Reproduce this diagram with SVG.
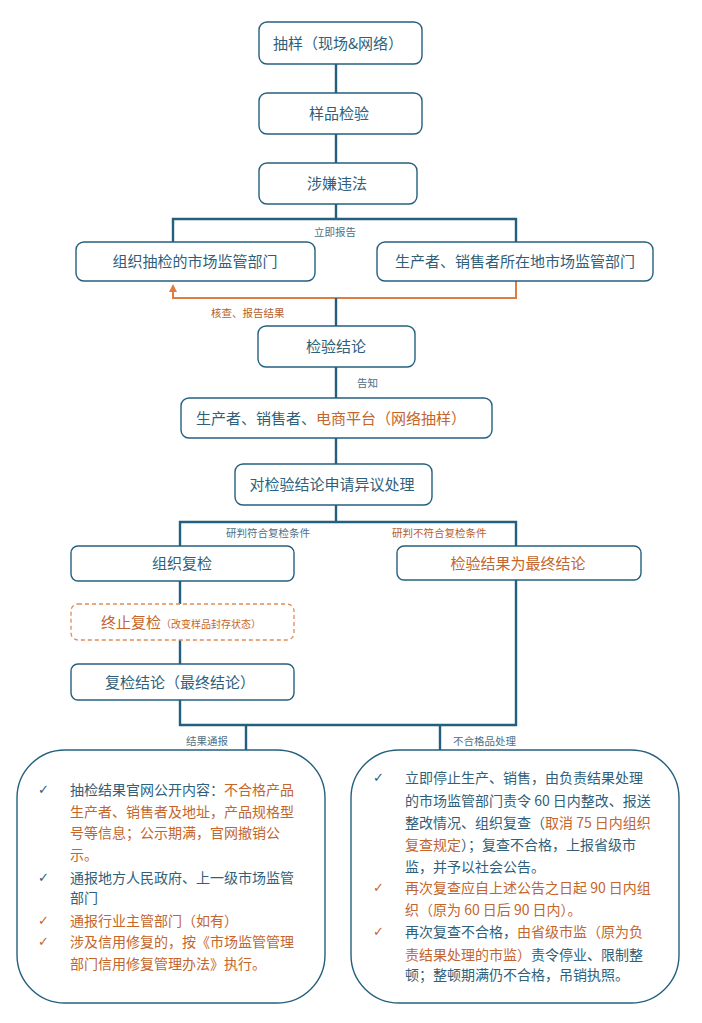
<svg xmlns="http://www.w3.org/2000/svg" width="702" height="1023" viewBox="0 0 702 1023">
<style>
.box{fill:#fff;stroke:#24607e;stroke-width:1.4}
.dash{fill:#fff;stroke:#e08a55;stroke-width:1.3;stroke-dasharray:4 3}
.t{font-family:"Noto Sans CJK SC","Liberation Sans",sans-serif;font-size:15px;fill:#2f5f7a;text-anchor:middle}
.lb{font-family:"Noto Sans CJK SC","Liberation Sans",sans-serif;font-size:10.5px;fill:#4d6f84}
.lo{fill:#b55d2c}
.c{fill:none;stroke:#24607e;stroke-width:2.4}
.co{fill:none;stroke:#de7d3e;stroke-width:2}
.bt{font-family:"Noto Sans CJK SC","Liberation Sans",sans-serif;font-size:14px;fill:#2f5f7a}
.ck{font-family:"DejaVu Sans",sans-serif;font-size:13px}
.o{fill:#c4652c}
</style>
<defs>
<marker id="ah" viewBox="0 0 10 10" refX="5" refY="5" markerWidth="4" markerHeight="4" orient="auto">
<path d="M0,0 L10,5 L0,10 z" fill="#de7d3e"/>
</marker>
</defs>
<g id="connectors">
<path class="c" d="M336,64 V93 M336,134 V163 M336,204 V219 M173,242 V219 H516 V242"/>
<path class="co" d="M516,281 V298 H173 V288" marker-end="url(#ah)"/>
<path class="c" d="M336,298 V326 M336,367 V398 M336,438 V464 M336,505 V522 M180,546 V522 H516 V546"/>
<path class="c" d="M180,581 V604 M180,640 V664 M180,700 V725 H516 V580 M246,725 V750 M440,725 V750"/>
<text class="lb" x="314" y="236">立即报告</text>
<text class="lb lo" x="211" y="317">核查、报告结果</text>
<text class="lb" x="357" y="387">告知</text>
<text class="lb" x="226" y="537">研判符合复检条件</text>
<text class="lb lo" x="392" y="537">研判不符合复检条件</text>
<text class="lb" x="186" y="745">结果通报</text>
<text class="lb" x="453" y="745">不合格品处理</text>
</g>
<g id="n1"><rect class="box" x="259" y="22" width="163" height="42" rx="8"/><text class="t" x="338" y="48.5">抽样（现场&amp;网络）</text></g>
<g id="n2"><rect class="box" x="259" y="93" width="163" height="41" rx="8"/><text class="t" x="339" y="119">样品检验</text></g>
<g id="n3"><rect class="box" x="259" y="163" width="158" height="41" rx="8"/><text class="t" x="337" y="189">涉嫌违法</text></g>
<g id="n4"><rect class="box" x="76" y="242" width="239" height="39" rx="8"/><text class="t" x="195" y="267">组织抽检的市场监管部门</text></g>
<g id="n5"><rect class="box" x="377" y="242" width="276" height="39" rx="8"/><text class="t" x="515" y="267">生产者、销售者所在地市场监管部门</text></g>
<g id="n6"><rect class="box" x="258" y="326" width="157" height="41" rx="8"/><text class="t" x="336" y="352">检验结论</text></g>
<g id="n7"><rect class="box" x="181" y="398" width="311" height="40" rx="8"/><text class="t" x="331" y="423.5">生产者、销售者、<tspan class="o">电商平台（网络抽样）</tspan></text></g>
<g id="n8"><rect class="box" x="235" y="464" width="197" height="41" rx="8"/><text class="t" x="332" y="490">对检验结论申请异议处理</text></g>
<g id="n9"><rect class="box" x="71" y="546" width="223" height="35" rx="7"/><text class="t" x="182" y="569">组织复检</text></g>
<g id="n10"><rect class="box" x="397" y="546" width="244" height="34" rx="7"/><text class="t o" x="518" y="568.5">检验结果为最终结论</text></g>
<g id="n11"><rect class="dash" x="71" y="604" width="223" height="36" rx="7"/><text class="t o" x="181" y="627.5">终止复检<tspan font-size="10">（改变样品封存状态）</tspan></text></g>
<g id="n12"><rect class="box" x="71" y="664" width="223" height="36" rx="7"/><text class="t" x="180" y="687.5">复检结论（最终结论）</text></g>
<g id="n13">
<rect class="box" x="17" y="750" width="308" height="253" rx="48"/>
<text class="ck" x="38" y="794" fill="#24607e">✓</text>
<text class="ck" x="38" y="882" fill="#24607e">✓</text>
<text class="ck" x="38" y="925" fill="#c4652c">✓</text>
<text class="ck" x="38" y="946" fill="#c4652c">✓</text>
<text class="bt" x="70" y="795">抽检结果官网公开内容：<tspan class="o">不合格产品</tspan></text>
<text class="bt o" x="70" y="817">生产者、销售者及地址，产品规格型</text>
<text class="bt o" x="70" y="838">号等信息；公示期满，官网撤销公</text>
<text class="bt o" x="70" y="860">示。</text>
<text class="bt" x="70" y="883">通报地方人民政府、上一级市场监管</text>
<text class="bt" x="70" y="903">部门</text>
<text class="bt o" x="70" y="926">通报行业主管部门（如有）</text>
<text class="bt o" x="70" y="947">涉及信用修复的，按《市场监管管理</text>
<text class="bt o" x="70" y="969">部门信用修复管理办法》执行。</text>
</g>
<g id="n14">
<rect class="box" x="351" y="750" width="328" height="253" rx="48"/>
<text class="ck" x="373" y="782" fill="#24607e">✓</text>
<text class="ck" x="373" y="892" fill="#c4652c">✓</text>
<text class="ck" x="373" y="936" fill="#c4652c">✓</text>
<text class="bt" x="405" y="783">立即停止生产、销售，由负责结果处理</text>
<text class="bt" x="405" y="806">的市场监管部门责令 60 日内整改、报送</text>
<text class="bt" x="405" y="828">整改情况、组织复查（<tspan class="o">取消 75 日内组织</tspan></text>
<text class="bt" x="405" y="850"><tspan class="o">复查规定</tspan>）；复查不合格，上报省级市</text>
<text class="bt" x="405" y="872">监，并予以社会公告。</text>
<text class="bt o" x="405" y="893">再次复查应自上述公告之日起 90 日内组</text>
<text class="bt o" x="405" y="915">织（原为 60 日后 90 日内）。</text>
<text class="bt" x="405" y="937">再次复查不合格，<tspan class="o">由省级市监（原为负</tspan></text>
<text class="bt" x="405" y="960"><tspan class="o">责结果处理的市监）</tspan>责令停业、限制整</text>
<text class="bt" x="405" y="980">顿；整顿期满仍不合格，吊销执照。</text>
</g>
</svg>
